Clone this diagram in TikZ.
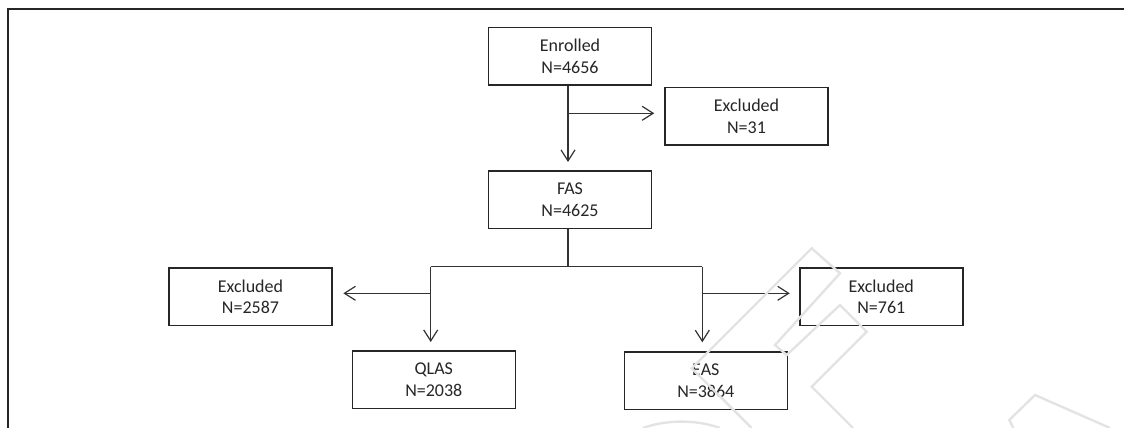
\documentclass[tikz,border=0pt]{standalone}
\usepackage{fontspec}
\setmainfont{Carlito}
\usetikzlibrary{arrows.meta}
\tikzset{
  box/.style={draw=black!85, line width=1.5pt, fill=white, minimum width=163pt, minimum height=57.5pt,
    inner sep=0pt, align=center, text=black!85, font=\fontsize{18}{21.7}\selectfont},
  conn/.style={draw=black!80, line width=1.2pt},
  tip/.style={-{Straight Barb[length=11pt,width=14pt,line width=1.2pt]}},
  frame/.style={draw=black!85, line width=1.5pt},
  wmark/.style={draw=black!11, line width=2.4pt, line join=miter}
}
\begin{document}
\begin{tikzpicture}[x=1pt,y=-1pt]
\useasboundingbox (0,0) rectangle (1124,428);
% frame
\coordinate (fbl) at (8,428);
\coordinate (ftl) at (8,9);
\coordinate (ftr) at (1124,9);
\draw[frame] (fbl) -- (ftl) -- (ftr);
% boxes
\node[box] (enr)  at (570,56.3)   {Enrolled\\N=4656};
\node[box] (ex1)  at (746.5,116.3) {Excluded\\N=31};
\node[box] (fas)  at (570,199.5)  {FAS\\N=4625};
\node[box] (ex2)  at (250.5,296.7) {Excluded\\N=2587};
\node[box] (qlas) at (433.8,379.5) {QLAS\\N=2038};
\node[box] (ex3)  at (881.3,296.7) {Excluded\\N=761};
\node[box] (eas)  at (705.8,380.8) {EAS\\N=3864};
% junctions
\coordinate (j1)  at (568,113.3);
\coordinate (j0)  at (568,266.7);
\coordinate (jl)  at (430.7,266.7);
\coordinate (jr)  at (702.3,266.7);
\coordinate (jl2) at (430.7,293.3);
\coordinate (jr2) at (702.3,293.3);
% connectors
\draw[conn,tip,shorten >=8pt] (enr.south -| j1) -- (fas.north -| j1);
\draw[conn,tip,shorten >=10pt] (j1) -- (ex1.west |- j1);
\draw[conn] (fas.south -| j0) -- (j0);
\draw[conn] (jl) -- (jr);
\draw[conn,tip,shorten >=8pt] (jl) -- (qlas.north -| jl);
\draw[conn,tip,shorten >=10.6pt] (jl2) -- (ex2.east |- jl2);
\draw[conn,tip,shorten >=9pt] (jr) -- (eas.north -| jr);
\draw[conn,tip,shorten >=9.3pt] (jr2) -- (ex3.west |- jr2);
% watermark
\draw[wmark] (751.7,428) -- (691.7,368.3) -- (811.7,248.3) -- (840,273.3) -- (775,345) -- (786.7,355)
  -- (840,305) -- (866.7,331.7) -- (811.7,386.7) -- (853,428);
\draw[wmark] (1013.3,428) -- (1009.3,420) -- (1035,395) -- (1110,428);
\draw[wmark] (643,428) .. controls (665,420) and (695,419) .. (720,428);
\end{tikzpicture}
\end{document}
